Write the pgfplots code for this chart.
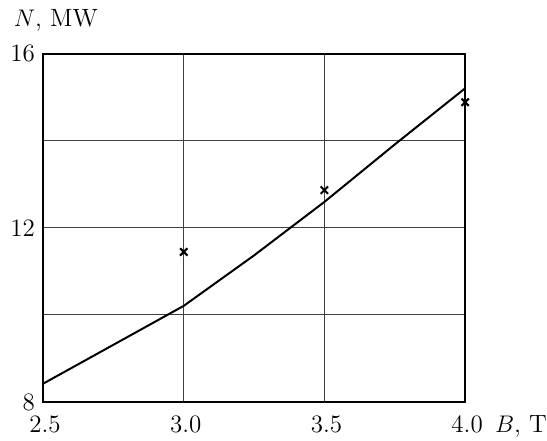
\documentclass[border=0pt]{standalone}
\usepackage{pgfplots}
\pgfplotsset{compat=1.18}
\begin{document}
\begin{tikzpicture}
\begin{axis}[
  scale only axis,
  width=211pt, height=174pt,
  xmin=2.5, xmax=4.0, ymin=8, ymax=16,
  xtick={2.5,3.0,3.5,4.0},
  xticklabels={2.5,3.0,3.5,4.0},
  ytick={8,10,12,14,16},
  yticklabels={8,,12,,16},
  major tick length=0pt,
  grid=major,
  major grid style={line width=0.5pt, black!75},
  axis line style={line width=0.7pt},
  tick label style={font=\fontsize{12.5}{14}\selectfont},
  xticklabel style={yshift=-3.5pt, xshift=1pt},
  yticklabel style={xshift=-0.5pt},
  clip=false,
]
\addplot[black, line width=1pt, sharp plot] coordinates {
  (2.5,8.42) (3.0,10.21) (3.25,11.37) (3.5,12.6) (3.75,13.92) (4.0,15.21)
};
\addplot[only marks, mark=x, mark size=2.6pt, black, line width=1pt] coordinates {
  (3.0,11.45) (3.5,12.87) (4.0,14.89)
};
\node[anchor=base west, font=\fontsize{12.5}{14}\selectfont, inner sep=0pt] at (rel axis cs:-0.07,1.08) {$N$, MW};
\node[anchor=base west, font=\fontsize{12.5}{14}\selectfont, inner sep=0pt] at (rel axis cs:1.07,-0.087) {$B$, T};
\path (rel axis cs:-0.102,-0.106) rectangle (rel axis cs:1.194,1.155);
\end{axis}
\end{tikzpicture}
\end{document}
